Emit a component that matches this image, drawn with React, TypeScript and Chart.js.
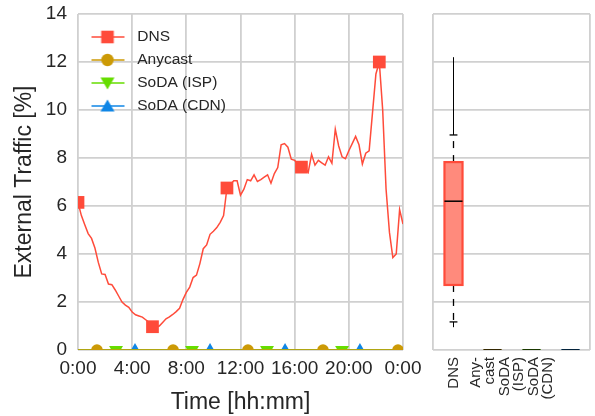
import React, { useEffect, useRef } from 'react';
import { Chart, registerables } from 'chart.js';

Chart.register(...registerables);

// ---------------- data ----------------
const dnsStepHours = 0.25;
const dnsValues = [
  6.15, 5.6, 5.22, 4.85, 4.65, 4.25, 3.65, 3.17, 3.15, 2.75, 2.72, 2.5, 2.25, 2.0, 1.87, 1.78,
  1.58, 1.47, 1.42, 1.37, 1.26, 1.15, 0.97, 0.95, 1.0, 1.15, 1.3, 1.38, 1.48, 1.6, 1.74, 2.1,
  2.4, 2.62, 3.02, 3.12, 3.6, 4.22, 4.38, 4.82, 4.95, 5.1, 5.32, 5.6, 6.75, 6.9, 7.05, 7.05,
  6.45, 6.7, 7.1, 7.05, 7.3, 7.02, 7.1, 7.2, 7.3, 6.95, 7.35, 7.6, 8.55, 8.6, 8.45, 7.95,
  7.9, 7.75, 7.62, 7.6, 7.4, 8.15, 7.7, 7.9, 7.8, 7.7, 8.05, 7.78, 9.2, 8.5, 8.05, 7.97,
  8.3, 8.6, 8.9, 8.55, 7.75, 8.2, 8.3, 9.9, 11.5, 12.0, 10.0, 6.7, 4.9, 3.85, 4.0, 5.85, 5.25,
];
const dnsMarkerHours = [0, 5.54, 11.08, 16.62, 22.15];

const anycastMarkerHours = [1.4, 7.02, 12.55, 18.09, 23.63];
const ispMarkerHours = [2.81, 8.42, 13.96, 19.5];
const cdnMarkerHours = [4.21, 9.75, 15.29, 20.82];

const xTickLabels = ['0:00', '4:00', '8:00', '12:00', '16:00', '20:00', '0:00'];
const yTicks = [0, 2, 4, 6, 8, 10, 12, 14];

const seriesNames = ['DNS', 'Anycast', 'SoDA (ISP)', 'SoDA (CDN)'];

// box plot statistics (per category)
const boxCategories = ['DNS', 'Anycast', 'SoDA (ISP)', 'SoDA (CDN)'];
const boxLabelLines = ['DNS', 'Any-', 'cast', 'SoDA', '(ISP)', 'SoDA', '(CDN)'];
const boxQ1 = [2.71, 0, 0, 0];
const boxMedian = [6.2, 0, 0, 0];
const boxQ3 = [7.83, 0, 0, 0];
const boxWhiskerLow = [1.17, 0, 0, 0];
const boxWhiskerHigh = [8.96, 0, 0, 0];
const boxFlierMin = [0.95, 0, 0, 0];
const boxFlierMax = [12.2, 0, 0, 0];

// ---------------- styles / layout ----------------
const FONT = '"Liberation Sans", Arial, sans-serif';
const TEXT = '#262626';
const GRID = '#d0d0d0';
const C_DNS = '#ff4b3a';
const C_DNS_FILL = '#ff8a7c';
const C_ANY = '#cc9a06';
const C_ISP = '#66dd00';
const C_CDN = '#0f86e6';
const seriesColors = [C_DNS, C_ANY, C_ISP, C_CDN];
const seriesMarkers = ['rect', 'circle', 'down', 'up'];
const boxEdge = [C_DNS, C_ANY, C_ISP, C_CDN];
const boxFill = [C_DNS_FILL, C_ANY, C_ISP, C_CDN];
const BOX_LABEL_SIZE = 15;
// centre of each label line (page px)
const boxLabelPx = [454, 476, 490, 505, 519, 534, 548];

function legendIcon(color: string, marker: string): HTMLCanvasElement {
  const c = document.createElement('canvas');
  c.width = 44;
  c.height = 18;
  const g = c.getContext('2d')!;
  g.strokeStyle = color;
  g.lineWidth = 1.5;
  g.beginPath();
  g.moveTo(6, 9);
  g.lineTo(39, 9);
  g.stroke();
  g.fillStyle = color;
  const cx = 22, cy = 9;
  g.beginPath();
  if (marker === 'rect') {
    g.rect(cx - 6.3, cy - 6.3, 12.6, 12.6);
  } else if (marker === 'circle') {
    g.arc(cx, cy, 6.2, 0, Math.PI * 2);
  } else if (marker === 'down') {
    g.moveTo(cx - 7, cy - 5.5);
    g.lineTo(cx + 7, cy - 5.5);
    g.lineTo(cx, cy + 6.5);
    g.closePath();
  } else {
    g.moveTo(cx - 7, cy + 5.5);
    g.lineTo(cx + 7, cy + 5.5);
    g.lineTo(cx, cy - 6.5);
    g.closePath();
  }
  g.fill();
  return c;
}

function zeroSeries(markers: number[]) {
  const hours = [0, ...markers, 24];
  return hours.map((h) => ({ x: h, y: 0 }));
}

const boxPlugin = {
  id: 'boxplot',
  afterDatasetsDraw(chart: any) {
    const { ctx, chartArea, scales } = chart;
    const x = scales.x;
    const y = scales.y;
    ctx.save();
    ctx.beginPath();
    ctx.rect(chartArea.left, chartArea.top, chartArea.right - chartArea.left, chartArea.bottom - chartArea.top);
    ctx.clip();
    const half = (x.getPixelForValue(0.46) - x.getPixelForValue(0)) / 2;
    const capHalf = (x.getPixelForValue(0.2) - x.getPixelForValue(0)) / 2;
    boxCategories.forEach((_, i) => {
      const cx = Math.round(x.getPixelForValue(i + 0.5)) + 0.5;
      const py = (v: number) => y.getPixelForValue(v);
      ctx.strokeStyle = '#000';
      ctx.lineWidth = 1;
      ctx.setLineDash([]);
      if (boxFlierMax[i] > boxWhiskerHigh[i]) {
        ctx.beginPath();
        ctx.moveTo(cx, py(boxWhiskerHigh[i]));
        ctx.lineTo(cx, py(boxFlierMax[i]));
        ctx.stroke();
      }
      if (boxFlierMin[i] < boxWhiskerLow[i]) {
        ctx.beginPath();
        ctx.moveTo(cx, py(boxWhiskerLow[i]));
        ctx.lineTo(cx, py(boxFlierMin[i]));
        ctx.stroke();
      }
      ctx.lineWidth = 1.3;
      ctx.setLineDash([7, 7]);
      if (boxWhiskerHigh[i] > boxQ3[i]) {
        ctx.beginPath();
        ctx.moveTo(cx, py(boxQ3[i]));
        ctx.lineTo(cx, py(boxWhiskerHigh[i]));
        ctx.stroke();
      }
      if (boxWhiskerLow[i] < boxQ1[i]) {
        ctx.beginPath();
        ctx.moveTo(cx, py(boxQ1[i]));
        ctx.lineTo(cx, py(boxWhiskerLow[i]));
        ctx.stroke();
      }
      ctx.setLineDash([]);
      [boxWhiskerHigh[i], boxWhiskerLow[i]].forEach((v, k) => {
        if ((k === 0 && v > boxQ3[i]) || (k === 1 && v < boxQ1[i])) {
          ctx.beginPath();
          ctx.moveTo(cx - capHalf, py(v));
          ctx.lineTo(cx + capHalf, py(v));
          ctx.stroke();
        }
      });
      const top = py(boxQ3[i]);
      const bot = py(boxQ1[i]);
      ctx.fillStyle = boxFill[i];
      ctx.fillRect(cx - half, top, half * 2, bot - top);
      ctx.strokeStyle = boxEdge[i];
      ctx.lineWidth = 2.2;
      ctx.strokeRect(cx - half, top, half * 2, bot - top);
      ctx.strokeStyle = '#000';
      ctx.lineWidth = 1.5;
      ctx.beginPath();
      ctx.moveTo(cx - half, py(boxMedian[i]));
      ctx.lineTo(cx + half, py(boxMedian[i]));
      ctx.stroke();
    });
    ctx.restore();
  },
};

export default function App() {
  const leftRef = useRef<HTMLCanvasElement>(null);
  const rightRef = useRef<HTMLCanvasElement>(null);

  useEffect(() => {
    const dnsData = dnsValues.map((v, i) => ({ x: i * dnsStepHours, y: v }));
    const dnsMarkIdx = new Set(dnsMarkerHours.map((h) => Math.round(h / dnsStepHours)));
    const interior = (ctx: any, r: number) =>
      ctx.dataIndex > 0 && ctx.dataIndex < ctx.dataset.data.length - 1 ? r : 0;

    const icons = seriesColors.map((c, i) => legendIcon(c, seriesMarkers[i]));

    const left = new Chart(leftRef.current!, {
      type: 'line',
      data: {
        datasets: [
          {
            label: seriesNames[0],
            data: dnsData,
            borderColor: C_DNS,
            backgroundColor: C_DNS,
            borderWidth: 1.5,
            pointStyle: 'rect',
            pointRadius: (ctx: any) => (dnsMarkIdx.has(ctx.dataIndex) ? 9 : 0),
            pointBorderWidth: 0,
            pointBackgroundColor: C_DNS,
            tension: 0,
            clip: 0,
          },
          {
            label: seriesNames[1],
            data: zeroSeries(anycastMarkerHours),
            borderColor: C_ANY,
            backgroundColor: C_ANY,
            borderWidth: 1.5,
            pointStyle: 'circle',
            pointRadius: (ctx: any) => interior(ctx, 5.8),
            pointBorderWidth: 0,
            pointBackgroundColor: C_ANY,
            clip: 0,
          },
          {
            label: seriesNames[2],
            data: zeroSeries(ispMarkerHours),
            borderColor: C_ISP,
            backgroundColor: C_ISP,
            borderWidth: 1.5,
            pointStyle: 'triangle',
            pointRotation: 180,
            pointRadius: (ctx: any) => interior(ctx, 8),
            pointBorderWidth: 0,
            pointBackgroundColor: C_ISP,
            clip: 0,
          },
          {
            label: seriesNames[3],
            data: zeroSeries(cdnMarkerHours),
            borderColor: C_CDN,
            backgroundColor: C_CDN,
            borderWidth: 1.5,
            pointStyle: 'triangle',
            pointRadius: (ctx: any) => interior(ctx, 7),
            pointBorderWidth: 0,
            pointBackgroundColor: C_CDN,
            clip: 0,
          },
        ],
      },
      options: {
        animation: false,
        responsive: false,
        events: [],
        layout: { padding: { left: 0, top: 14, right: 27, bottom: 0 }, autoPadding: false },
        plugins: {
          tooltip: { enabled: false },
          legend: {
            position: 'chartArea' as any,
            fullSize: false,
            align: 'start',
            title: { display: true, text: '', font: { size: 1, lineHeight: 1.2 }, padding: { top: 0, bottom: 20.5 } },
            labels: {
              usePointStyle: true,
              pointStyleWidth: 44,
              padding: 7.5,
              color: TEXT,
              font: { family: FONT, size: 15.5 },
              generateLabels: () =>
                seriesNames.map((name, i) => ({
                  text: name,
                  pointStyle: icons[i] as any,
                  fillStyle: 'rgba(0,0,0,0)',
                  strokeStyle: 'rgba(0,0,0,0)',
                  lineWidth: 0,
                  fontColor: TEXT,
                  datasetIndex: i,
                  hidden: false,
                })),
            },
          },
        },
        scales: {
          x: {
            type: 'linear',
            min: 0,
            max: 24,
            afterBuildTicks: (s: any) => {
              s.ticks = xTickLabels.map((_, i) => ({ value: i * 4 }));
            },
            afterFit: (s: any) => {
              s.height = 66;
            },
            grid: { color: GRID, lineWidth: 1.8, drawTicks: false },
            border: { display: false },
            ticks: {
              padding: 7,
              color: TEXT,
              font: { family: FONT, size: 19 },
              maxRotation: 0,
              autoSkip: false,
              callback: (_v: any, i: number) => xTickLabels[i],
            },
            title: {
              display: true,
              text: 'Time [hh:mm]',
              color: TEXT,
              font: { family: FONT, size: 23 },
              padding: { top: 0, bottom: 0 },
            },
          },
          y: {
            min: 0,
            max: 14,
            afterBuildTicks: (s: any) => {
              s.ticks = yTicks.map((v) => ({ value: v }));
            },
            afterFit: (s: any) => {
              s.width = 78;
              s.paddingTop = 0;
              s.paddingBottom = 0;
            },
            grid: { color: GRID, lineWidth: 1.8, drawTicks: false },
            border: { display: false },
            ticks: {
              padding: 11,
              color: TEXT,
              font: { family: FONT, size: 19 },
              callback: (v: any) => String(v),
            },
            title: {
              display: true,
              text: 'External Traffic [%]',
              color: TEXT,
              font: { family: FONT, size: 23 },
              padding: { top: 11, bottom: 0 },
            },
          },
        },
      },
    } as any);

    const chartLeft = 433 - 420;
    const unit = (595 - 5 - 433) / boxCategories.length;
    const labelValues = boxLabelPx.map((px) => (px - 433) / unit);

    const right = new Chart(rightRef.current!, {
      type: 'scatter',
      data: { datasets: [{ data: [] }] },
      options: {
        animation: false,
        responsive: false,
        events: [],
        layout: { padding: { left: chartLeft, top: 14, right: 5, bottom: 0 }, autoPadding: false },
        plugins: { legend: { display: false }, tooltip: { enabled: false } },
        scales: {
          x: {
            type: 'linear',
            min: 0,
            max: boxCategories.length,
            afterBuildTicks: (s: any) => {
              s.ticks = [0, ...labelValues, boxCategories.length].map((v) => ({ value: v }));
            },
            afterFit: (s: any) => {
              s.height = 66;
              s.paddingLeft = 0;
              s.paddingRight = 0;
            },
            grid: {
              color: (ctx: any) =>
                ctx.tick && (ctx.tick.value === 0 || ctx.tick.value === boxCategories.length)
                  ? GRID
                  : 'rgba(0,0,0,0)',
              lineWidth: 1.8,
              drawTicks: false,
            },
            border: { display: false },
            ticks: {
              autoSkip: false,
              minRotation: 90,
              maxRotation: 90,
              padding: 7,
              color: TEXT,
              font: { family: FONT, size: BOX_LABEL_SIZE },
              callback: (_v: any, i: number, arr: any[]) =>
                i === 0 || i === arr.length - 1 ? '' : boxLabelLines[i - 1],
            },
          },
          y: {
            min: 0,
            max: 14,
            afterBuildTicks: (s: any) => {
              s.ticks = yTicks.map((v) => ({ value: v }));
            },
            afterFit: (s: any) => {
              s.width = 0;
              s.paddingTop = 0;
              s.paddingBottom = 0;
            },
            grid: { color: GRID, lineWidth: 1.8, drawTicks: false },
            border: { display: false },
            ticks: { display: false },
          },
        },
      },
      plugins: [boxPlugin],
    } as any);

    return () => {
      left.destroy();
      right.destroy();
    };
  }, []);

  return (
    <div style={{ position: 'fixed', left: 0, top: 0, width: 595, height: 416, background: '#fff' }}>
      <canvas ref={leftRef} width={430} height={416} style={{ position: 'absolute', left: 0, top: 0 }} />
      <canvas ref={rightRef} width={175} height={416} style={{ position: 'absolute', left: 420, top: 0 }} />
    </div>
  );
}
